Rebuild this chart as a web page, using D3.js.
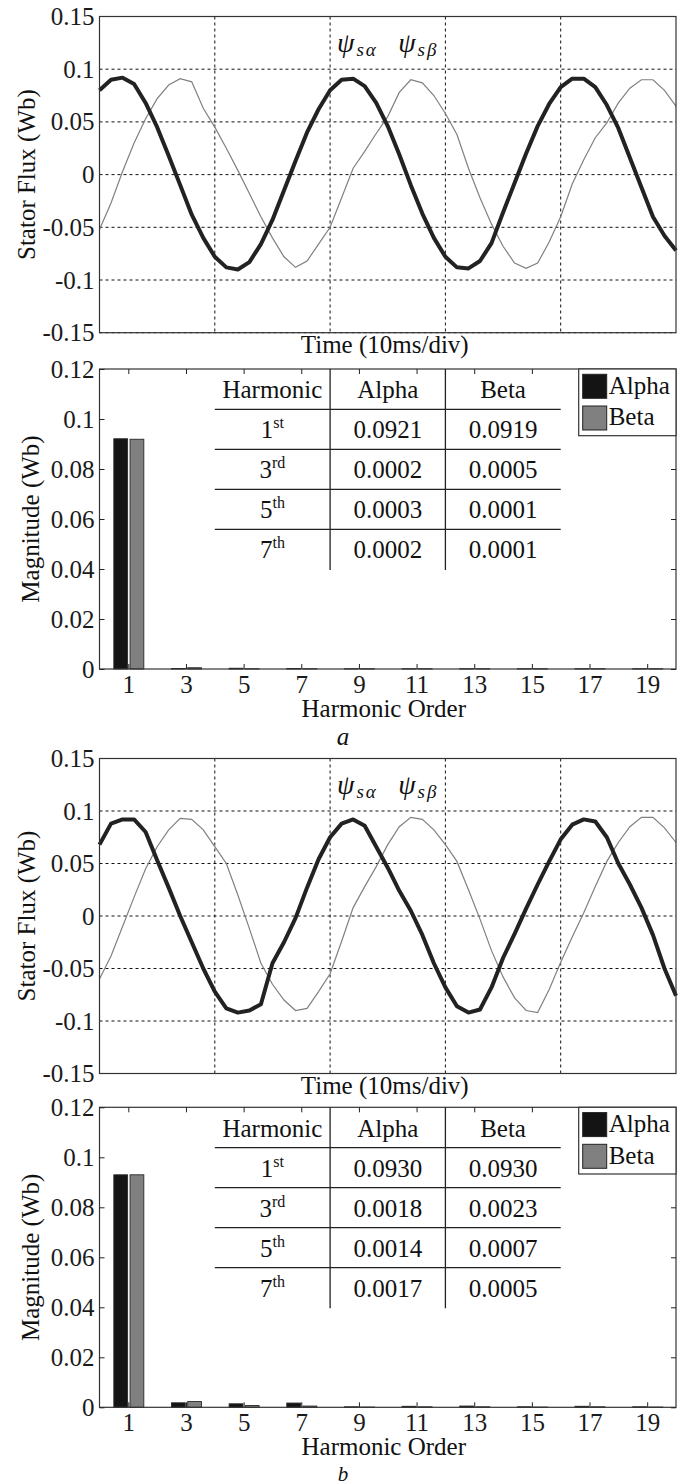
<!DOCTYPE html>
<html>
<head>
<meta charset="utf-8">
<script src="https://cdn.jsdelivr.net/npm/d3@7"></script>
<style>
body { margin: 0; background: #fff; }
</style>
</head>
<body>
<div id="fig"></div>
<script>
var W = 686, H = 1484;
var FONT = "Liberation Serif";
var L = 99.5, R = 676;

// time base of the traces (ms), read every 1 ms
var timeMs = [0,1,2,3,4,5,6,7,8,9,10,11,12,13,14,15,16,17,18,19,20,21,22,23,24,25,
              26,27,28,29,30,31,32,33,34,35,36,37,38,39,40,41,42,43,44,45,46,47,48,49,50];
var timeGrid = [10, 20, 30, 40];
var fluxTicks = [-0.15, -0.1, -0.05, 0, 0.05, 0.1, 0.15];

// panel a : stator flux (Wb)
var fluxAlphaA = [0.080,0.090,0.092,0.086,0.068,0.045,0.018,-0.010,-0.038,-0.060,-0.078,-0.088,-0.090,-0.083,-0.066,-0.043,-0.015,0.013,0.040,0.062,
                  0.080,0.090,0.091,0.084,0.068,0.046,0.019,-0.010,-0.037,-0.060,-0.078,-0.088,-0.089,-0.082,-0.065,-0.036,-0.008,0.020,0.046,0.067,
                  0.083,0.091,0.091,0.083,0.066,0.044,0.016,-0.012,-0.040,-0.058,-0.072];
var fluxBetaA  = [-0.052,-0.027,0.003,0.030,0.053,0.072,0.085,0.091,0.088,0.063,0.045,0.025,0.004,-0.018,-0.040,-0.060,-0.078,-0.088,-0.082,-0.066,
                  -0.050,-0.022,0.006,0.022,0.039,0.055,0.078,0.090,0.087,0.075,0.058,0.038,0.006,-0.022,-0.047,-0.068,-0.084,-0.089,-0.084,-0.064,
                  -0.040,-0.009,0.014,0.035,0.049,0.068,0.082,0.090,0.090,0.080,0.065];
// panel b
var fluxAlphaB = [0.068,0.088,0.092,0.092,0.080,0.053,0.027,0.000,-0.025,-0.050,-0.072,-0.088,-0.092,-0.090,-0.084,-0.045,-0.025,-0.002,0.027,0.054,
                  0.075,0.088,0.092,0.086,0.066,0.046,0.024,0.005,-0.018,-0.045,-0.068,-0.086,-0.092,-0.089,-0.068,-0.040,-0.017,0.007,0.030,0.052,
                  0.073,0.087,0.092,0.090,0.075,0.050,0.030,0.008,-0.018,-0.050,-0.076];
var fluxBetaB  = [-0.060,-0.038,-0.010,0.018,0.045,0.066,0.082,0.093,0.092,0.082,0.066,0.050,0.020,-0.012,-0.045,-0.065,-0.080,-0.090,-0.088,-0.072,
                  -0.055,-0.024,0.008,0.028,0.047,0.068,0.085,0.094,0.092,0.082,0.068,0.052,0.025,-0.003,-0.033,-0.058,-0.078,-0.090,-0.092,-0.070,
                  -0.044,-0.020,0.003,0.028,0.052,0.070,0.085,0.094,0.094,0.084,0.070];

// harmonic spectra (Wb)
var harmonics = [1, 3, 5, 7, 9, 11, 13, 15, 17, 19];
var seriesNames = ["Alpha", "Beta"];
var magAlphaA = [0.0921, 0.0002, 0.0003, 0.0002, 0.0001, 0.0001, 0.0001, 0.0001, 0.0001, 0.0001];
var magBetaA  = [0.0919, 0.0005, 0.0001, 0.0001, 0.0001, 0.0001, 0.0001, 0.0001, 0.0001, 0.0001];
var magAlphaB = [0.0930, 0.0018, 0.0014, 0.0017, 0.0002, 0.0004, 0.0005, 0.0002, 0.0004, 0.0002];
var magBetaB  = [0.0930, 0.0023, 0.0007, 0.0005, 0.0001, 0.0002, 0.0002, 0.0001, 0.0002, 0.0001];
var magTicks = [0, 0.02, 0.04, 0.06, 0.08, 0.1, 0.12];

// table rows
var tableOrders = ["1", "3", "5", "7"];
var tableSuffix = ["st", "rd", "th", "th"];
var tableHeader = ["Harmonic", "Alpha", "Beta"];
var tableCols = [4, 8, 12, 16]; // column edges in harmonic-axis units

var color = d3.scaleOrdinal().domain(seriesNames).range(["#141414", "#808080"]);

const svg = d3.select("#fig")
    .append("svg")
    .attr("width", W)
    .attr("height", H)
    .attr("viewBox", [0, 0, W, H])
    .attr("font-family", FONT);

svg.append("rect").attr("width", W).attr("height", H).attr("fill", "#fff");

function styleAxis(g) {
    g.attr("font-family", FONT).attr("font-size", 25).style("color", "#1a1a1a");
    g.select(".domain").remove();
    g.selectAll(".tick line").attr("stroke", "#222");
    g.selectAll("text").attr("font-family", FONT);
}

function label(g, x, y, txt, size) {
    return g.append("text")
        .attr("x", x).attr("y", y)
        .attr("text-anchor", "middle")
        .attr("font-family", FONT)
        .attr("font-size", size || 25)
        .attr("fill", "#111")
        .text(txt);
}

function drawFlux(top, bottom, alpha, beta, timeBase) {
    var x = d3.scaleLinear().domain([0, 50]).range([L, R]);
    var y = d3.scaleLinear().domain([-0.15, 0.15]).range([bottom, top]);
    var g = svg.append("g");

    // dashed grid
    g.append("g").selectAll("line")
        .data(timeGrid)
        .join("line")
          .attr("x1", d => x(d)).attr("x2", d => x(d))
          .attr("y1", top).attr("y2", bottom)
          .attr("stroke", "#111").attr("stroke-width", 1)
          .attr("stroke-dasharray", "3,3");
    g.append("g").selectAll("line")
        .data(fluxTicks)
        .join("line")
          .attr("x1", L).attr("x2", R)
          .attr("y1", d => y(d)).attr("y2", d => y(d))
          .attr("stroke", "#111").attr("stroke-width", 1)
          .attr("stroke-dasharray", "3,3");

    var line = d3.line()
        .x((d, i) => x(timeBase[i]))
        .y(d => y(d));

    g.append("path")
        .datum(beta)
        .attr("d", line)
        .attr("fill", "none")
        .attr("stroke", "#808080")
        .attr("stroke-width", 1.2);
    g.append("path")
        .datum(alpha)
        .attr("d", line)
        .attr("fill", "none")
        .attr("stroke", "#222")
        .attr("stroke-width", 4)
        .attr("stroke-linejoin", "round");

    g.append("rect")
        .attr("x", L).attr("y", top)
        .attr("width", R - L).attr("height", bottom - top)
        .attr("fill", "none").attr("stroke", "#333").attr("stroke-width", 1.2);

    g.append("g")
        .attr("transform", `translate(${L},0)`)
        .call(d3.axisLeft(y).tickValues(fluxTicks).tickSize(0).tickPadding(5).tickFormat(d => String(d)))
        .call(styleAxis);

    // psi labels
    [["s\u03B1", 20.6], ["s\u03B2", 25.9]].forEach(function (p) {
        var lab = g.append("text")
            .attr("x", x(p[1])).attr("y", y(0.116))
            .attr("font-family", FONT)
            .attr("font-size", 28).attr("font-style", "italic").attr("fill", "#111");
        lab.append("tspan").text("\u03C8");
        lab.append("tspan").attr("font-size", 19).attr("dy", 4).attr("dx", 2).attr("letter-spacing", 2).text(p[0]);
    });

    label(g, (L + R) / 2 - 3, bottom + 20.5, "Time (10ms/div)");
    label(g, 0, 0, "Stator Flux (Wb)")
        .attr("transform", `translate(35,${(top + bottom) / 2}) rotate(-90)`);
}

function drawBars(top, bottom, alphaVals, betaVals, letter, letterY, letterSize) {
    var x = d3.scaleLinear().domain([0, 20]).range([L, R]);
    var y = d3.scaleLinear().domain([0, 0.12]).range([bottom, top]);
    var sub = d3.scaleBand().domain(seriesNames).range([-14.5, 15.5]).paddingInner(0.15);
    var g = svg.append("g");

    var rows = harmonics.map((h, i) => ({h: h, Alpha: alphaVals[i], Beta: betaVals[i]}));

    g.append("g")
        .selectAll("g")
        .data(rows)
        .join("g")
          .attr("transform", d => `translate(${x(d.h)},0)`)
        .selectAll("rect")
        .data(d => seriesNames.map(k => ({key: k, value: d[k]})))
        .join("rect")
          .attr("x", d => sub(d.key))
          .attr("width", sub.bandwidth())
          .attr("y", d => y(d.value))
          .attr("height", d => y(0) - y(d.value))
          .attr("fill", d => color(d.key))
          .attr("stroke", "#2a2a2a")
          .attr("stroke-width", 0.9);

    // box and inward ticks on all four sides
    g.append("rect")
        .attr("x", L).attr("y", top)
        .attr("width", R - L).attr("height", bottom - top)
        .attr("fill", "none").attr("stroke", "#333").attr("stroke-width", 1.2);

    g.append("g")
        .attr("transform", `translate(0,${bottom})`)
        .call(d3.axisBottom(x).tickValues(harmonics).tickSize(-5).tickPadding(6))
        .call(styleAxis);
    g.append("g")
        .attr("transform", `translate(0,${top})`)
        .call(d3.axisTop(x).tickValues(harmonics).tickSize(-5).tickFormat(""))
        .call(styleAxis);
    g.append("g")
        .attr("transform", `translate(${L},0)`)
        .call(d3.axisLeft(y).tickValues(magTicks).tickSize(-5).tickPadding(5).tickFormat(d => String(d)))
        .call(styleAxis);
    g.append("g")
        .attr("transform", `translate(${R},0)`)
        .call(d3.axisRight(y).tickValues(magTicks).tickSize(-5).tickFormat(""))
        .call(styleAxis);

    // harmonic table
    var rowH = 40;
    var tg = g.append("g");
    var fmt = d3.format(".4f");
    tg.selectAll("line.h")
        .data([1, 2, 3, 4])
        .join("line")
          .attr("x1", x(tableCols[0])).attr("x2", x(tableCols[3]))
          .attr("y1", d => top + d * rowH + 0.3).attr("y2", d => top + d * rowH + 0.3)
          .attr("stroke", "#222").attr("stroke-width", 1.3);
    tg.selectAll("line.v")
        .data([tableCols[1], tableCols[2]])
        .join("line")
          .attr("x1", d => x(d)).attr("x2", d => x(d))
          .attr("y1", top).attr("y2", top + 5 * rowH + 1)
          .attr("stroke", "#222").attr("stroke-width", 1.3);

    var colMid = [0, 1, 2].map(i => (x(tableCols[i]) + x(tableCols[i + 1])) / 2);
    tableHeader.forEach((h, i) => label(tg, colMid[i], top + 29.3, h));

    tableOrders.forEach(function (o, i) {
        var yy = top + (i + 1) * rowH + 29.3;
        var t = label(tg, colMid[0], yy, null);
        t.append("tspan").text(o);
        t.append("tspan").attr("font-size", 16).attr("dy", -10).text(tableSuffix[i]);
        label(tg, colMid[1], yy, fmt(alphaVals[i]));
        label(tg, colMid[2], yy, fmt(betaVals[i]));
    });

    // legend
    var lx = 578.7;
    var lg = g.append("g");
    lg.append("rect")
        .attr("x", lx).attr("y", top)
        .attr("width", R - lx).attr("height", 66.7)
        .attr("fill", "#fff").attr("stroke", "#333").attr("stroke-width", 1.2);
    lg.selectAll("rect.sw")
        .data(seriesNames)
        .join("rect")
          .attr("x", lx + 4).attr("y", (d, i) => top + 5.3 + i * 31.7)
          .attr("width", 24).attr("height", 24)
          .attr("fill", d => color(d)).attr("stroke", "#222").attr("stroke-width", 1);
    seriesNames.forEach((s, i) => label(lg, lx + 30, top + 24.5 + i * 31.7, s).attr("text-anchor", "start"));

    label(g, (L + R) / 2 - 4, bottom + 48, "Harmonic Order");
    label(g, 0, 0, "Magnitude (Wb)")
        .attr("transform", `translate(39,${(top + bottom) / 2}) rotate(-90)`);
    label(g, 343, letterY, letter, letterSize).attr("font-style", "italic");
}

drawFlux(16.5, 332.7, fluxAlphaA, fluxBetaA, timeMs);
drawBars(369, 669, magAlphaA, magBetaA, "a", 745, 25);
drawFlux(758.5, 1073.5, fluxAlphaB, fluxBetaB, timeMs);
drawBars(1107.3, 1407.3, magAlphaB, magBetaB, "b", 1480.5, 21);
</script>
</body>
</html>
